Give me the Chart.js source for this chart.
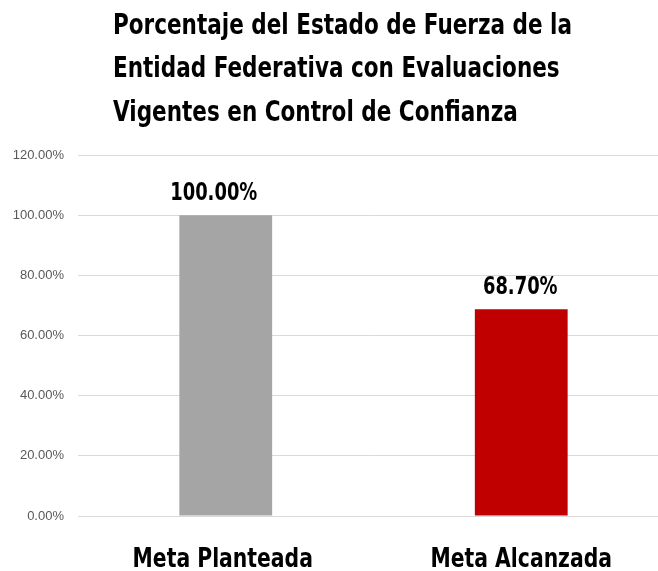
<!DOCTYPE html>
<html>
<head>
<meta charset="utf-8">
<script src="https://cdn.jsdelivr.net/npm/chart.js@4"></script>
<style>
html,body{margin:0;padding:0;overflow:hidden;background:#fff;}
#wrap{position:absolute;left:0;top:0;width:685px;height:571px;}
</style>
</head>
<body>
<div id="wrap"><canvas id="c"></canvas></div>
<script>
const categories = ["Meta Planteada", "Meta Alcanzada"];
const values = [100.00, 68.70];
const barColors = ["#a5a5a5", "#c00000"];
const titleLines = ["Porcentaje del Estado de Fuerza de la", "Entidad Federativa con Evaluaciones", "Vigentes en Control de Confianza"];
const yMax = 120;
const yStep = 20;

const condensed = '"DejaVu Sans Condensed", "Liberation Sans Narrow", sans-serif';
const valueLabelShift = [-12, -1];
const categoryLabelShift = [-3, 0];

function squeezedText(ctx, text, x, y, sx) {
  ctx.save();
  ctx.translate(x, y);
  ctx.scale(sx, 1);
  ctx.fillText(text, 0, 0);
  ctx.restore();
}

const textPlugin = {
  id: 'textPlugin',
  afterDraw(chart) {
    const ctx = chart.ctx;
    ctx.save();
    ctx.fillStyle = '#000';
    ctx.textBaseline = 'alphabetic';

    // title: left aligned, condensed
    ctx.font = 'bold 28px ' + condensed;
    ctx.textAlign = 'left';
    const sxT = 459 / ctx.measureText(titleLines[0]).width;
    titleLines.forEach((line, i) => {
      squeezedText(ctx, line, 113, 33.5 + i * 43.5, sxT);
    });

    // value labels above bars
    ctx.font = 'bold 24px ' + condensed;
    ctx.textAlign = 'center';
    const meta = chart.getDatasetMeta(0);
    meta.data.forEach((bar, i) => {
      squeezedText(ctx, values[i].toFixed(2) + '%', bar.x + valueLabelShift[i], bar.y - 15, 0.83);
    });

    // category labels
    ctx.font = 'bold 26px ' + condensed;
    const xs = chart.scales.x;
    categories.forEach((c, i) => {
      squeezedText(ctx, c, xs.getPixelForValue(i) + categoryLabelShift[i], 566.5, 0.87);
    });
    ctx.restore();
  }
};

new Chart(document.getElementById('c'), {
  type: 'bar',
  data: {
    labels: categories,
    datasets: [{
      data: values,
      backgroundColor: barColors,
      borderWidth: 0,
      barPercentage: 0.314,
      categoryPercentage: 1.0
    }]
  },
  options: {
    responsive: true,
    maintainAspectRatio: false,
    animation: false,
    layout: { padding: { left: 0, right: 16, top: 155, bottom: 0 } },
    plugins: {
      legend: { display: false },
      tooltip: { enabled: false },
      title: { display: false }
    },
    scales: {
      x: {
        grid: { display: false, drawTicks: false },
        border: { display: false },
        ticks: { display: false },
        afterFit(axis) { axis.height = 55; }
      },
      y: {
        min: 0,
        max: yMax,
        afterFit(axis) { axis.width = 78; },
        grid: { color: '#d9d9d9', lineWidth: 1, drawTicks: false },
        border: { display: false },
        ticks: {
          stepSize: yStep,
          padding: 14,
          color: '#595959',
          font: { family: '"Liberation Sans", Arial, sans-serif', size: 13 },
          callback: v => v.toFixed(2) + '%'
        }
      }
    }
  },
  plugins: [textPlugin]
});
</script>
</body>
</html>
